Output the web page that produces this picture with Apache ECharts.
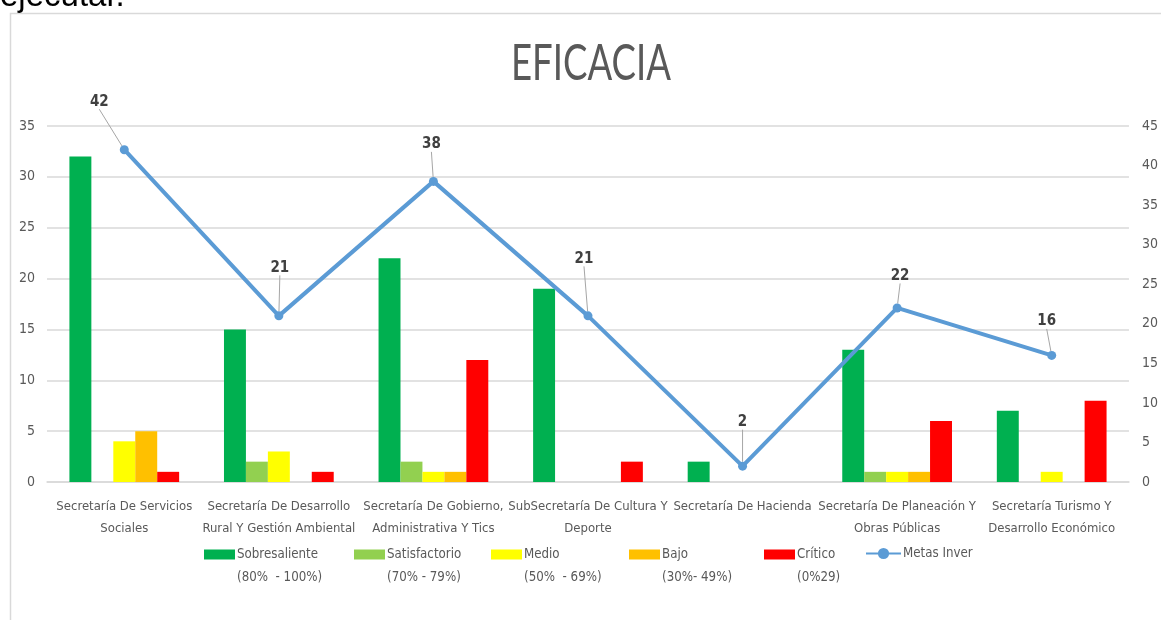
<!DOCTYPE html>
<html>
<head>
<meta charset="utf-8">
<script src="https://cdn.jsdelivr.net/npm/echarts@6/dist/echarts.min.js"></script>
<style>
html,body{margin:0;padding:0;background:#fff;}
#c{width:1161px;height:620px;}
</style>
</head>
<body>
<div id="c"></div>
<script>
var categories = [
  'Secretaría De Servicios\nSociales',
  'Secretaría De Desarrollo\nRural Y Gestión Ambiental',
  'Secretaría De Gobierno,\nAdministrativa Y Tics',
  'SubSecretaría De Cultura Y\nDeporte',
  'Secretaría De Hacienda',
  'Secretaría De Planeación Y\nObras Públicas',
  'Secretaría Turismo Y\nDesarrollo Económico'
];
var sobresaliente = [32, 15, 22, 19, 2, 13, 7];
var satisfactorio = [0, 2, 2, 0, 0, 1, 0];
var medio = [4, 3, 1, 0, 0, 1, 1];
var bajo = [5, 0, 1, 0, 0, 1, 0];
var critico = [1, 1, 12, 2, 0, 6, 8];
var metas = [42, 21, 38, 21, 2, 22, 16];

var seriesNames = [
  'Sobresaliente\n(80%  - 100%)',
  'Satisfactorio\n(70% - 79%)',
  'Medio\n(50%  - 69%)',
  'Bajo\n(30%- 49%)',
  'Crítico\n(0%29)',
  'Metas Inver'
];
var leftTicks = [0, 35, 5];
var rightTicks = [0, 45, 5];
var titleText = 'EFICACIA';
var headerText = 'ejecutar.';

// styling (not data)
var barColors = ['#00B050', '#92D050', '#FFFF00', '#FFC000', '#FF0000'];
var labelShift = [[-25, -31], [1, -31], [-2, -20], [-4, -40], [0, -27], [3, -15], [-5, -17]];
var legendLeft = [204, 354, 491, 629, 764, 865];

var FONT = '"DejaVu Sans Condensed", "Liberation Sans", sans-serif';
var TITLE_FONT = 'Lato, "Liberation Sans", sans-serif';

var measureCtx = document.createElement('canvas').getContext('2d');
function textWidth(text, size, family, weight) {
  measureCtx.font = (weight || 'normal') + ' ' + size + 'px ' + family;
  return measureCtx.measureText(text).width;
}
// pick sizes so that narrow reference text widths are matched
var catSize = Math.round(15 * 136 / textWidth('Secretaría De Servicios', 15, FONT) * 10) / 10;
var legSize = Math.round(15 * 81 / textWidth('Sobresaliente', 15, FONT) * 10) / 10;
var titleSize = 50;
var titleScale = 160 / textWidth(titleText, titleSize, TITLE_FONT, 'normal');

var chart = echarts.init(document.getElementById('c'));

var barData = [sobresaliente, satisfactorio, medio, bajo, critico];
var series = barData.map(function (d, i) {
  return {
    name: seriesNames[i],
    type: 'bar',
    data: d,
    barGap: '0%',
    barCategoryGap: '29%',
    itemStyle: { color: barColors[i] },
    emphasis: { disabled: true }
  };
});
series.push({
  name: seriesNames[5],
  type: 'line',
  yAxisIndex: 1,
  data: metas,
  symbol: 'circle',
  symbolSize: 9,
  lineStyle: { color: '#5B9BD5', width: 4 },
  itemStyle: { color: '#5B9BD5' },
  label: {
    show: true,
    position: 'top',
    fontFamily: FONT,
    fontSize: 15,
    fontWeight: 'bold',
    color: '#404040'
  },
  labelLine: { show: true, lineStyle: { color: '#a6a6a6', width: 1 } },
  labelLayout: function (p) {
    var s = labelShift[p.dataIndex];
    return { dx: s[0], dy: s[1] };
  },
  emphasis: { disabled: true },
  z: 5
});

var legends = seriesNames.map(function (n, i) {
  return {
    data: [{ name: n, icon: i < 5 ? 'rect' : undefined }],
    left: legendLeft[i],
    top: i < 5 ? 520 : 542,
    orient: 'horizontal',
    padding: 0,
    itemWidth: i < 5 ? 31 : 35,
    itemHeight: i < 5 ? 10 : 14,
    selectedMode: false,
    formatter: i < 5 ? function (name) { return '\n' + name; } : undefined,
    textStyle: { fontFamily: FONT, fontSize: legSize, color: '#595959', lineHeight: 23, padding: [0, 0, 0, -3] }
  };
});

chart.setOption({
  animation: false,
  backgroundColor: '#fff',
  graphic: [
    { type: 'rect', left: 8, top: 11, shape: { width: 1300, height: 800 }, style: { fill: null, stroke: '#d9d9d9', lineWidth: 1.5 }, silent: true },
    { type: 'text', left: 0, top: -20, style: { text: headerText, font: '33px "Liberation Sans", Arial, sans-serif', fill: '#000' }, silent: true },
    { type: 'text', x: 591, y: 64, scaleX: titleScale, style: { text: titleText, font: 'normal ' + titleSize + 'px ' + TITLE_FONT, fill: '#595959', align: 'center', verticalAlign: 'middle' }, silent: true }
  ],
  legend: legends,
  grid: { left: 47, right: 26, top: 126, bottom: 138 },
  xAxis: {
    type: 'category',
    data: categories,
    axisLine: { show: true, lineStyle: { color: '#d9d9d9', width: 1.5 } },
    axisTick: { show: false },
    axisLabel: { interval: 0, margin: 14, fontFamily: FONT, fontSize: catSize, lineHeight: 22, color: '#595959' }
  },
  yAxis: [
    {
      type: 'value', min: leftTicks[0], max: leftTicks[1], interval: leftTicks[2],
      axisLine: { show: false }, axisTick: { show: false },
      splitLine: { lineStyle: { color: '#d9d9d9', width: 1.5 } },
      axisLabel: { margin: 12, fontFamily: FONT, fontSize: 14, color: '#595959' }
    },
    {
      type: 'value', min: rightTicks[0], max: rightTicks[1], interval: rightTicks[2],
      axisLine: { show: false }, axisTick: { show: false },
      splitLine: { show: false },
      axisLabel: { margin: 13, fontFamily: FONT, fontSize: 14, color: '#595959' }
    }
  ],
  series: series
});
</script>
</body>
</html>
